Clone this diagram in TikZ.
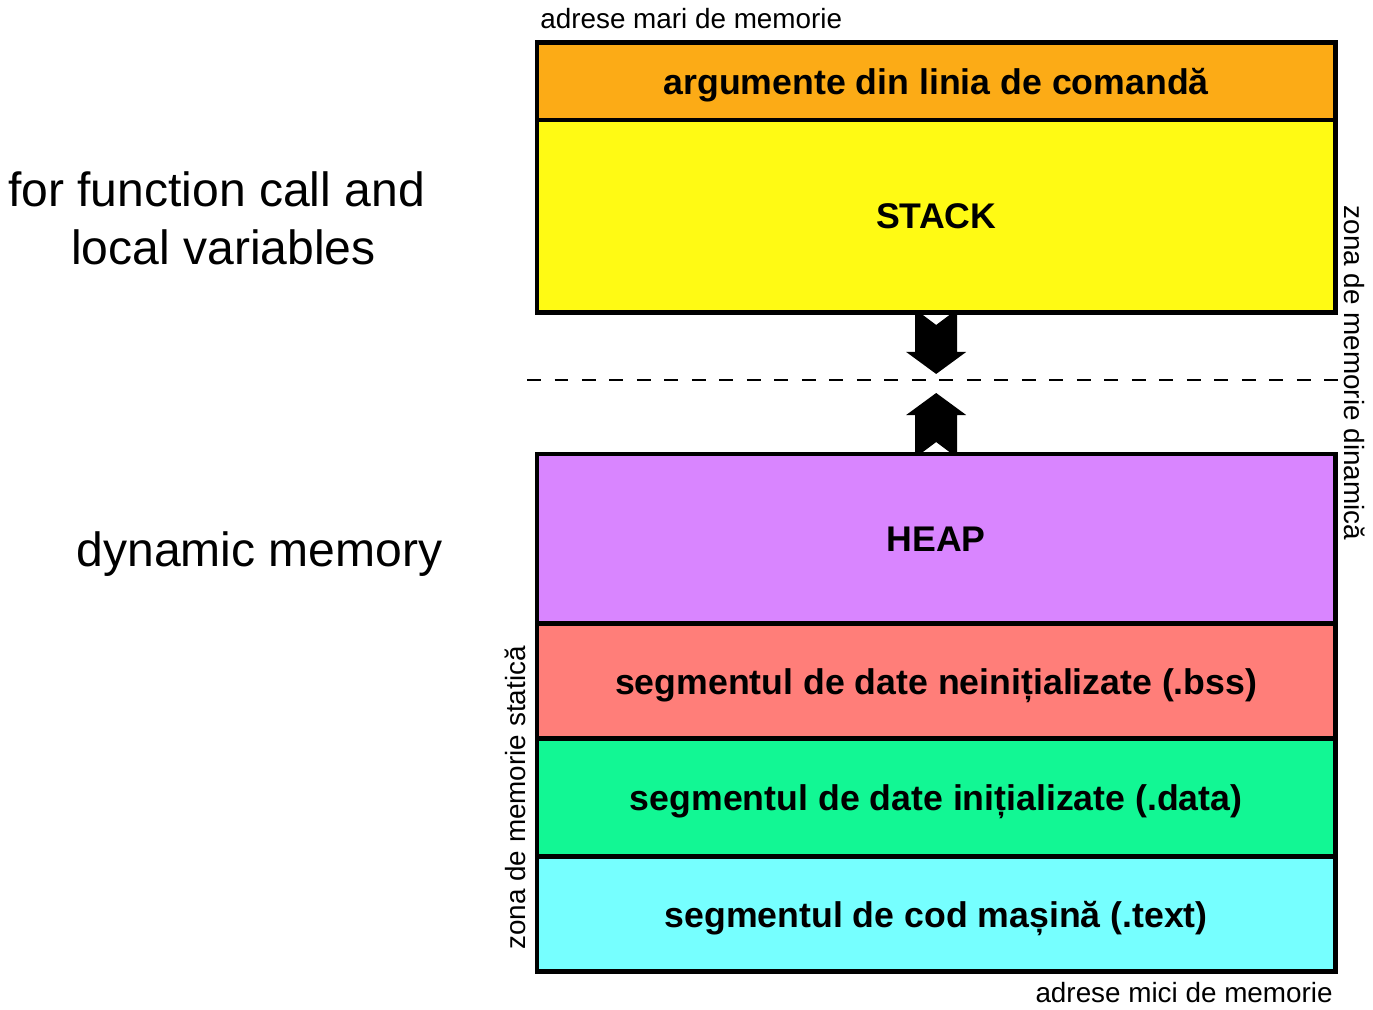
\documentclass[tikz,border=0pt]{standalone}
\usepackage{fontspec}
\setmainfont{Liberation Sans}
\usetikzlibrary{positioning,calc}

\definecolor{argcol}{RGB}{252,171,22}
\definecolor{stackcol}{RGB}{255,250,20}
\definecolor{heapcol}{RGB}{217,133,255}
\definecolor{bsscol}{RGB}{255,126,121}
\definecolor{datacol}{RGB}{18,247,148}
\definecolor{textcol}{RGB}{118,255,255}

\tikzset{
  seg/.style={draw=black, line width=2.83pt, outer sep=0pt, inner sep=0pt,
    minimum width=15.97cm, text depth=0pt, font=\fontsize{20.3}{24}\selectfont\bfseries},
  smalltxt/.style={inner sep=0pt, font=\fontsize{15.85}{18}\selectfont},
  bigtxt/.style={inner sep=0pt, font=\fontsize{27.35}{31}\selectfont},
  gapline/.style={line width=1.1pt, dash pattern=on 7.94pt off 7.71pt}
}

\begin{document}
\begin{tikzpicture}[x=0.02cm,y=-0.02cm]
 \useasboundingbox (0,0) rectangle (1373,1009);
 % stack side
 \node[seg, fill=argcol, minimum height=1.55cm, anchor=north west] (args) at (537,42.5) {argumente din linia de comandă};
 \node[seg, fill=stackcol, minimum height=3.86cm, below=0pt of args] (stack) {STACK};
 % heap and static segments
 \node[seg, fill=heapcol, minimum height=3.4cm, anchor=north west] (heap) at (537,454) {HEAP};
 \node[seg, fill=bsscol, minimum height=2.3cm, below=0pt of heap] (bss) {segmentul de date neinițializate (.bss)};
 \node[seg, fill=datacol, minimum height=2.36cm, below=0pt of bss] (data) {segmentul de date inițializate (.data)};
 \node[seg, fill=textcol, minimum height=2.3cm, below=0pt of data] (text) {segmentul de cod mașină (.text)};
 % growth arrows
 \foreach \a/\s in {stack.south/1, heap.north/-1}
  \fill ($(\a)+(-21,0)$) -- ($(\a)+(-16,0)$) -- ($(\a)+(0,\s*12)$) -- ($(\a)+(16,0)$)
   -- ($(\a)+(21,0)$) -- ($(\a)+(21,\s*39)$) -- ($(\a)+(30,\s*39)$) -- ($(\a)+(0,\s*61)$)
   -- ($(\a)+(-30,\s*39)$) -- ($(\a)+(-21,\s*39)$) -- cycle;
 \coordinate (gapL) at (527,380);
 \coordinate (gapR) at (1341,380);
 \draw[gapline] (gapL) -- (gapR);
 % labels
 \node[smalltxt, anchor=base west] (hiaddr) at (540,28) {adrese mari de memorie};
 \node[smalltxt, anchor=base east] (loaddr) at (1333,1002) {adrese mici de memorie};
 \node[smalltxt, rotate=-90, anchor=base] (dynzone) at (1344,373) {zona de memorie dinamică};
 \node[smalltxt, rotate=90, anchor=base] (statzone) at (525,798) {zona de memorie statică};
 \node[bigtxt, anchor=base] (fnA) at (216.5,206) {for function call and};
 \node[bigtxt, anchor=base] (fnB) at (223.5,264) {local variables};
 \node[bigtxt, anchor=base] (dynmem) at (259.5,566) {dynamic memory};
\end{tikzpicture}
\end{document}
